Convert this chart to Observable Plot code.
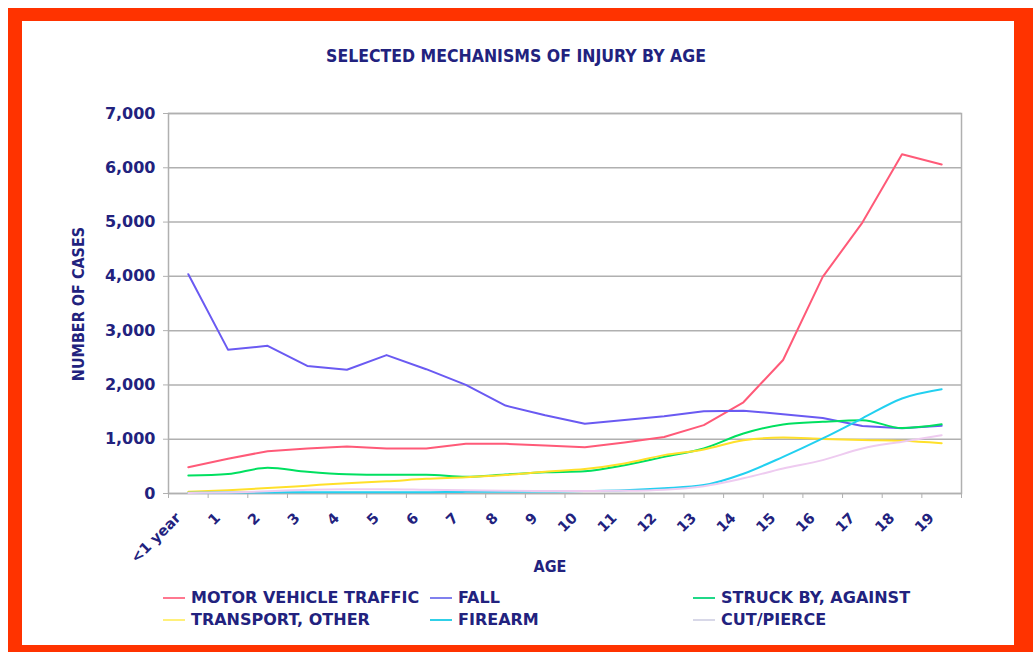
<!DOCTYPE html>
<html>
<head>
<meta charset="utf-8">
<script src="https://cdn.jsdelivr.net/npm/d3@7"></script>
<script src="https://cdn.jsdelivr.net/npm/@observablehq/plot@0.6"></script>
<style>
  body { margin:0; width:1033px; height:652px; position:relative; overflow:hidden; background:#fff; }
  .abs { position:absolute; }
  .navy { color:#22227e; font-weight:bold; }
  .cond { font-family:"DejaVu Sans Condensed","DejaVu Sans",sans-serif; font-stretch:condensed; }
  .leg { font-family:"DejaVu Sans","Verdana",sans-serif; font-size:16px; line-height:16px; white-space:nowrap; }
  .sw { position:absolute; height:2px; width:22px; }
</style>
</head>
<body>
<div class="abs" style="left:8px;top:8px;width:1025px;height:644px;background:#ff3300"></div>
<div class="abs" style="left:22px;top:21px;width:992px;height:624px;background:#fff"></div>
<div class="abs navy cond" id="title" style="left:216px;width:600px;top:48px;text-align:center;font-size:17.5px;line-height:17.5px;white-space:nowrap">SELECTED MECHANISMS OF INJURY BY AGE</div>
<div id="chart" class="abs" style="left:22px;top:21px"></div>
<div class="abs navy cond" id="ytitle" style="left:79px;top:304px;font-size:16px;line-height:16px;white-space:nowrap;transform:translate(-50%,-50%) rotate(-90deg)">NUMBER OF CASES</div>
<div class="abs navy cond" id="xtitle" style="left:550px;top:567px;font-size:16px;line-height:16px;white-space:nowrap;transform:translate(-50%,-50%)">AGE</div>
<div id="legend"></div>
<script>
// ---- data ----
const ages = ["<1 year","1","2","3","4","5","6","7","8","9","10","11","12","13","14","15","16","17","18","19"];
const motorVehicleTraffic = [485, 640, 780, 830, 865, 830, 830, 915, 915, 885, 850, 940, 1040, 1260, 1680, 2460, 3990, 4990, 6250, 6060];
const fall = [4040, 2650, 2720, 2350, 2280, 2550, 2290, 2000, 1620, 1440, 1285, 1355, 1425, 1515, 1525, 1460, 1390, 1245, 1200, 1250];
const struckByAgainst = [330, 360, 475, 400, 355, 345, 345, 310, 350, 390, 410, 520, 675, 830, 1105, 1270, 1320, 1350, 1205, 1275];
const transportOther = [30, 62, 100, 145, 190, 225, 270, 300, 340, 400, 450, 553, 707, 812, 980, 1030, 1005, 985, 970, 925];
const firearm = [15, 20, 20, 25, 25, 25, 25, 30, 30, 35, 45, 60, 95, 155, 365, 675, 1015, 1385, 1750, 1920];
const cutPierce = [10, 20, 40, 70, 80, 80, 70, 60, 50, 45, 45, 50, 70, 135, 280, 460, 615, 830, 955, 1075];
const seriesNames = ["MOTOR VEHICLE TRAFFIC", "FALL", "STRUCK BY, AGAINST", "TRANSPORT, OTHER", "FIREARM", "CUT/PIERCE"];
const seriesValues = [motorVehicleTraffic, fall, struckByAgainst, transportOther, firearm, cutPierce];
const seriesCurves = ["linear", "linear", "monotone-x", "monotone-x", "monotone-x", "monotone-x"];
const lineColors = ["#ff5a78", "#6a5af2", "#00e060", "#ffe02a", "#22d0f0", "#eecbf0"];
const legendColors = ["#ff7890", "#8080ee", "#20d888", "#fff07a", "#30d0e8", "#d8d8e8"];
const yTicks = [0, 1000, 2000, 3000, 4000, 5000, 6000, 7000];

// ---- build rows ----
const rows = [];
seriesNames.forEach((name, s) => seriesValues[s].forEach((v, i) => rows.push({series: name, i, value: v})));
const idx = ages.map((_, i) => i);
const bounds = d3.range(ages.length + 1).map(i => i - 0.5);

const navy = "#22227e";
const gray = "#b0b0b0";
const lineMarks = seriesNames.map((name, s) =>
  Plot.line(rows.filter(r => r.series === name), {x: "i", y: "value", stroke: lineColors[s], strokeWidth: 2, curve: seriesCurves[s]})
);
const chart = Plot.plot({
  width: 992, height: 560,
  marginLeft: 146, marginRight: 53, marginTop: 92, marginBottom: 88,
  style: {background: "transparent", overflow: "visible"},
  x: {type: "linear", domain: [-0.5, ages.length - 0.5], label: null},
  y: {domain: [0, 7000], label: null},
  marks: [
    Plot.gridY(yTicks, {stroke: gray, strokeOpacity: 1, strokeWidth: 1.5}),
    Plot.frame({stroke: gray, strokeWidth: 1.5}),
    Plot.axisY(yTicks, {tickFormat: d3.format(","), tickSize: 5, tickPadding: 8, stroke: gray, fill: navy,
      fontFamily: "DejaVu Sans, Verdana, sans-serif", fontWeight: "bold", fontSize: 16, label: null}),
    Plot.axisX(bounds, {tickSize: 5, tickFormat: () => "", stroke: gray, label: null}),
    Plot.axisX(idx, {tickSize: 0, tickPadding: 22, dx: -10, tickRotate: -45, tickFormat: i => ages[i], fill: navy,
      fontFamily: "DejaVu Sans, Verdana, sans-serif", fontWeight: "bold", fontSize: 14.5, label: null}),
    ...lineMarks
  ]
});
document.getElementById("chart").appendChild(chart);

// ---- legend ----
const legendPos = [[163, 590], [430, 590], [693, 590], [163, 612], [430, 612], [693, 612]];
const leg = document.getElementById("legend");
seriesNames.forEach((name, s) => {
  const [x, y] = legendPos[s];
  const sw = document.createElement("div");
  sw.className = "sw";
  sw.style.left = x + "px"; sw.style.top = (y + 7) + "px"; sw.style.background = legendColors[s];
  leg.appendChild(sw);
  const t = document.createElement("div");
  t.className = "abs navy leg";
  t.style.left = (x + 28) + "px"; t.style.top = y + "px";
  t.textContent = name;
  leg.appendChild(t);
});
</script>
</body>
</html>
